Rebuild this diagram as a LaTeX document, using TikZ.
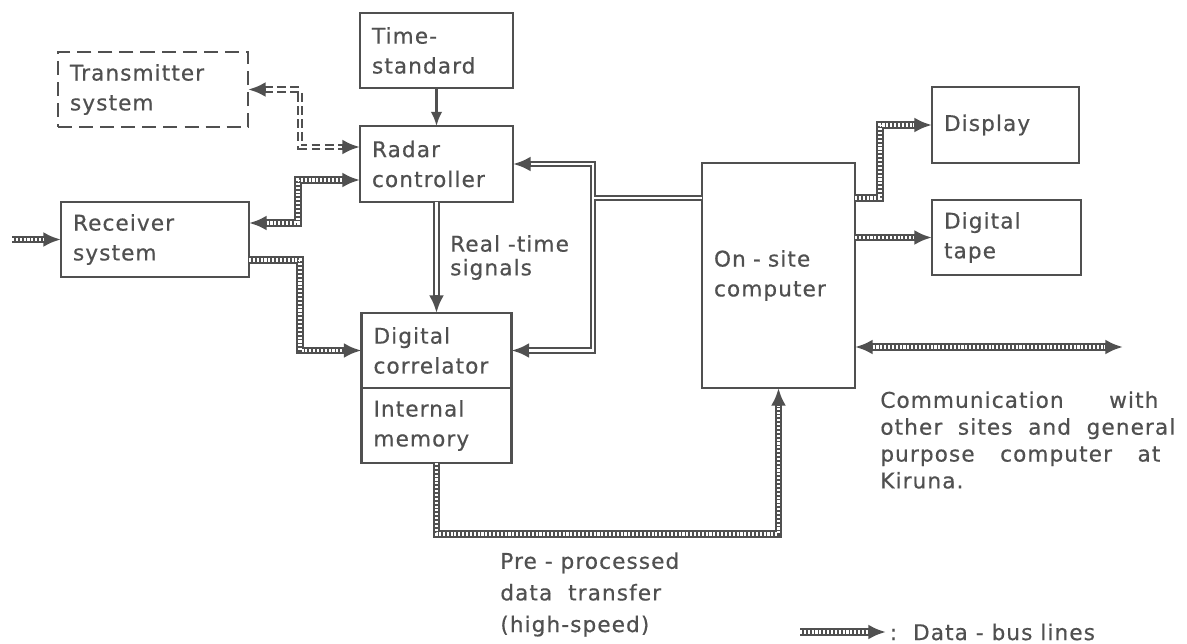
\documentclass[tikz,border=0pt]{standalone}
\usepackage{fontspec}
\setmainfont[LetterSpace=5,FakeBold=0.5]{DejaVu Sans}
\usetikzlibrary{arrows.meta,positioning}
\definecolor{ink}{HTML}{505050}
\newcommand{\boxfont}{\fontsize{12.3}{17}\selectfont}
\tikzset{
  box/.style={draw=ink,line width=1.3pt,outer sep=0pt,inner xsep=0.24cm,inner ysep=0pt,align=left,text=ink,font=\boxfont,minimum height=1.5cm},
  bus/.style 2 args={draw=ink,line width=4.2pt,postaction={draw=white,line width=2.2pt,dash pattern=on 1.2pt off 1pt,-,shorten <=#1,shorten >=#2}},
  pipe/.style 2 args={draw=ink,line width=3.6pt,postaction={draw=white,line width=1.6pt,solid,-,shorten <=#1,shorten >=#2}},
  sig/.style={draw=ink,line width=1.3pt,-{Latex[length=8pt,width=6.5pt]}},
  lbl/.style={text=ink,inner sep=0pt,align=left,font=\fontsize{12.3}{#1}\selectfont}
}

\begin{document}
\begin{tikzpicture}[x=0.02cm,y=-0.02cm,>={Latex[length=10pt,width=8.5pt]}]
\fill[white] (0,0) rectangle (1187,643);
\useasboundingbox (0,0) rectangle (1187,643);
% blocks
\node[box,dash pattern=on 8pt off 4pt,minimum width=3.8cm,text width=3.32cm] (tx) at (153,89.5) {Transmitter\\system};
\node[box,text width=2.58cm] (ts) at (436.5,50.5) {Time-\\standard};
\node[box,minimum height=1.52cm,text width=2.58cm] (radar) at (436.5,164) {Radar\\controller};
\node[box,text width=3.28cm] (rx) at (155,239.5) {Receiver\\system};
\node[box,text width=2.52cm] (corr) at (436.5,350.5) {Digital\\correlator};
\node[box,text width=2.52cm,below=0pt of corr] (mem) {Internal\\memory};
\node[box,minimum height=4.5cm,text width=2.58cm] (comp) at (778.5,275.5) {On - site\\computer};
\node[box,minimum height=1.52cm,text width=2.46cm] (disp) at (1005.5,125) {Display};
\node[box,text width=2.5cm] (tape) at (1006.5,237.5) {Digital\\tape};
% corners of the lines
\coordinate (rxin) at (12,239.5);
\coordinate (k1) at (300,147);
\coordinate (k2) at (298,223);
\coordinate (k3) at (298,180);
\coordinate (k4) at (300,260);
\coordinate (jn) at (593,198);
\coordinate (k5) at (880,198);
\coordinate (comm) at (1123,347);
\coordinate (k6) at (436.5,534);
\coordinate (lgA) at (800,632);
\coordinate (lgB) at (886,632);
% connections
\draw[bus={0pt}{10pt},->] (rxin) -- (rx.west);
\draw[pipe={10pt}{10pt},<->,dash pattern=on 5pt off 2.5pt] (tx.east) -| (k1) -- (k1 -| radar.west);
\draw[bus={10pt}{10pt},<->] (rx.east |- k2) -- (k2) |- (k3 -| radar.west);
\draw[bus={0pt}{10pt},->] (rx.east |- k4) -- (k4) |- (corr.west);
\draw[sig] (ts) -- (radar);
\draw[pipe={0pt}{10pt},->] (radar) -- (corr) node[midway,right,lbl=13.5pt,xshift=6pt]{Real -time\\signals};
\draw[pipe={10pt}{10pt},<->] (radar.east) -| (jn) |- (corr.east);
\draw[pipe={0pt}{0.8pt},shorten >=0.8pt] (comp.west |- jn) -- (jn);
\draw[bus={0pt}{10pt},->] (comp.east |- k5) -- (k5) |- (disp.west);
\draw[bus={0pt}{10pt},->] (comp.east |- tape.west) -- (tape.west);
\draw[bus={10pt}{10pt},<->] (comp.east |- comm) -- (comm);
\draw[bus={0pt}{10pt},->] (mem.south) -- (k6) -| (comp.south);
\draw[bus={0pt}{10pt},->] (lgA) -- (lgB);
% texts
\node[lbl=15.3pt,anchor=north west] (commtxt) at (880,391) {\makebox[5.56cm][s]{Communication with}\\\makebox[5.9cm][s]{other sites and general}\\\makebox[5.6cm][s]{purpose computer at}\\Kiruna.};
\node[lbl=18pt,anchor=north west] (pre) at (500,552) {Pre - processed\\data\ \ transfer\\(high-speed)};
\node[lbl=14pt,anchor=west,xshift=2pt] (lgtxt) at (lgB) {:\ \ Data - bus lines};
\end{tikzpicture}
\end{document}
